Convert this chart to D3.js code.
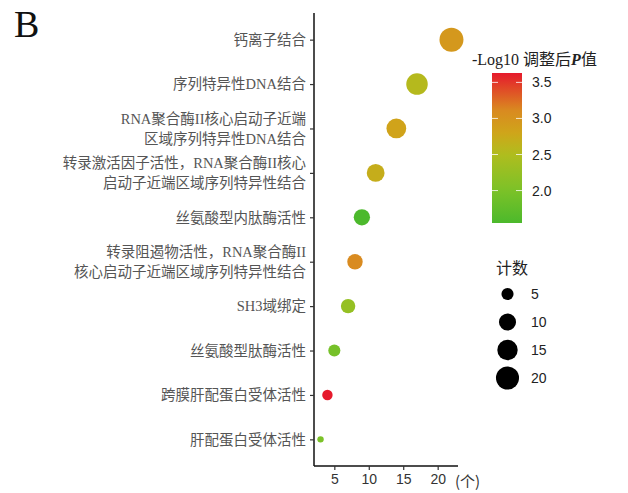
<!DOCTYPE html>
<html>
<head>
<meta charset="utf-8">
<script src="https://cdn.jsdelivr.net/npm/d3@7"></script>
<style>
  body { margin: 0; background: #fff; }
  svg { display: block; }
</style>
</head>
<body>
<svg id="chart" width="628" height="493"></svg>
<script>
// GO molecular-function enrichment terms, top to bottom ("\n" marks a line break)
const categories = [
  "钙离子结合",
  "序列特异性DNA结合",
  "RNA聚合酶II核心启动子近端\n区域序列特异性DNA结合",
  "转录激活因子活性，RNA聚合酶II核心\n启动子近端区域序列特异性结合",
  "丝氨酸型内肽酶活性",
  "转录阻遏物活性，RNA聚合酶II\n核心启动子近端区域序列特异性结合",
  "SH3域绑定",
  "丝氨酸型肽酶活性",
  "跨膜肝配蛋白受体活性",
  "肝配蛋白受体活性"
];
// gene counts per term
const counts = [22, 17, 14, 11, 9, 8, 7, 5, 4, 3];
// -log10 adjusted P value per term
const logP = [2.95, 2.55, 2.82, 2.7, 1.55, 3.1, 2.25, 1.95, 3.63, 2.0];

const xTicks = [5, 10, 15, 20];
const colorTicks = [2.0, 2.5, 3.0, 3.5];
const sizeBreaks = [5, 10, 15, 20];

// colour ramp: green -> yellow -> orange -> red (positions as fraction of the P range)
const rampPos = [0, 0.22, 0.46, 0.6, 0.75, 1];
const rampColors = ["#4cb92c", "#7cc228", "#b0bd1e", "#cfa51a", "#d98a20", "#e61a2c"];

const svg = d3.select("#chart");
const serif = "'Liberation Serif', 'Noto Sans CJK SC', serif";
const sans = "'Liberation Sans', Arial, sans-serif";

const panel = { left: 314, right: 458, top: 13, bottom: 466 };

// x: count, with 5% padding either side of the data range
const cExt = d3.extent(counts);
const pad = (cExt[1] - cExt[0]) * 0.05;
const x = d3.scaleLinear()
  .domain([cExt[0] - pad, cExt[1] + pad])
  .range([panel.left, panel.right]);

// y: one slot per term
const y = d3.scalePoint()
  .domain(categories)
  .range([panel.top, panel.bottom])
  .padding(0.6);

// colour scale over the P range
const pExt = d3.extent(logP);
const color = d3.scaleLinear()
  .domain(rampPos.map(f => pExt[0] + f * (pExt[1] - pExt[0])))
  .range(rampColors)
  .interpolate(d3.interpolateRgb);

// size: area-proportional radius
const rNorm = d3.scaleLinear().domain(cExt).range([0, 1]).clamp(true);
const rRange = d3.scaleLinear().domain([0, 1]).range([3.2, 12]);
const radius = v => rRange(Math.sqrt(rNorm(v)));

// panel letter
svg.append("text")
  .attr("x", 14).attr("y", 37)
  .attr("font-family", serif).attr("font-size", 38)
  .attr("fill", "#111")
  .text("B");

// x axis
const xAxis = svg.append("g")
  .attr("transform", `translate(0,${panel.bottom})`)
  .call(d3.axisBottom(x).tickValues(xTicks).tickSizeOuter(0).tickSize(4).tickPadding(4));
xAxis.select(".domain").attr("stroke", "#111").attr("stroke-width", 1.5)
  .attr("d", `M${panel.left},0H${panel.right}`);
xAxis.selectAll(".tick line").attr("stroke", "#333").attr("stroke-width", 1.2);
xAxis.selectAll(".tick text")
  .attr("font-family", sans).attr("font-size", 14).attr("fill", "#333");

svg.append("text")
  .attr("x", 455).attr("y", 487)
  .attr("font-family", "'Noto Sans CJK SC', sans-serif").attr("font-size", 15)
  .attr("fill", "#333")
  .text("(个)");

// y axis
const yAxis = svg.append("g")
  .attr("transform", `translate(${panel.left},0)`)
  .call(d3.axisLeft(y).tickSizeOuter(0).tickSize(4).tickFormat(""));
yAxis.select(".domain").attr("stroke", "#111").attr("stroke-width", 1.5)
  .attr("d", `M0,${panel.top}V${panel.bottom}`);
yAxis.selectAll(".tick line").attr("stroke", "#333").attr("stroke-width", 1.2);

// term labels (may span two lines)
const lineGap = 20;
categories.forEach(cat => {
  const lines = cat.split("\n");
  const t = svg.append("text")
    .attr("text-anchor", "end")
    .attr("font-family", serif).attr("font-size", 14.5)
    .attr("fill", "#555");
  lines.forEach((ln, i) => {
    t.append("tspan")
      .attr("x", 306)
      .attr("y", y(cat) + (i - (lines.length - 1) / 2) * lineGap)
      .attr("dy", "0.36em")
      .text(ln);
  });
});

// points
svg.append("g").selectAll("circle")
  .data(categories.map((c, i) => ({ c, n: counts[i], p: logP[i] })))
  .join("circle")
  .attr("cx", d => x(d.n))
  .attr("cy", d => y(d.c))
  .attr("r", d => radius(d.n))
  .attr("fill", d => color(d.p));

// colour legend
svg.append("text")
  .attr("x", 472).attr("y", 65)
  .attr("font-family", serif).attr("font-size", 16).attr("fill", "#222")
  .call(t => {
    t.append("tspan").text("-Log10 调整后");
    t.append("tspan").attr("font-weight", "bold").attr("font-style", "italic").text("P");
    t.append("tspan").text("值");
  });

const bar = { x: 492, w: 30, top: 73, bottom: 223 };
const cbScale = d3.scaleLinear().domain(pExt).range([bar.bottom, bar.top]);
const defs = svg.append("defs");
const grad = defs.append("linearGradient")
  .attr("id", "cbar").attr("x1", 0).attr("y1", 1).attr("x2", 0).attr("y2", 0);
d3.range(0, 1.0001, 0.05).forEach(f => {
  grad.append("stop")
    .attr("offset", f)
    .attr("stop-color", color(pExt[0] + f * (pExt[1] - pExt[0])));
});
svg.append("rect")
  .attr("x", bar.x).attr("y", bar.top)
  .attr("width", bar.w).attr("height", bar.bottom - bar.top)
  .attr("fill", "url(#cbar)");
const cbTicks = svg.append("g");
colorTicks.forEach(v => {
  const yy = cbScale(v);
  cbTicks.append("line").attr("x1", bar.x).attr("x2", bar.x + 6)
    .attr("y1", yy).attr("y2", yy).attr("stroke", "#fff").attr("stroke-opacity", 0.8);
  cbTicks.append("line").attr("x1", bar.x + bar.w - 6).attr("x2", bar.x + bar.w)
    .attr("y1", yy).attr("y2", yy).attr("stroke", "#fff").attr("stroke-opacity", 0.8);
  cbTicks.append("text")
    .attr("x", 532).attr("y", yy).attr("dy", "0.36em")
    .attr("font-family", sans).attr("font-size", 14).attr("fill", "#222")
    .text(v.toFixed(1));
});

// size legend
svg.append("text")
  .attr("x", 496).attr("y", 274)
  .attr("font-family", serif).attr("font-size", 16).attr("fill", "#222")
  .text("计数");
const sizeY = d3.scalePoint().domain(sizeBreaks).range([294, 378]);
const sl = svg.append("g");
sizeBreaks.forEach(v => {
  sl.append("circle")
    .attr("cx", 507.5).attr("cy", sizeY(v))
    .attr("r", radius(v)).attr("fill", "#000");
  sl.append("text")
    .attr("x", 531).attr("y", sizeY(v)).attr("dy", "0.36em")
    .attr("font-family", sans).attr("font-size", 14).attr("fill", "#222")
    .text(v);
});
</script>
</body>
</html>
